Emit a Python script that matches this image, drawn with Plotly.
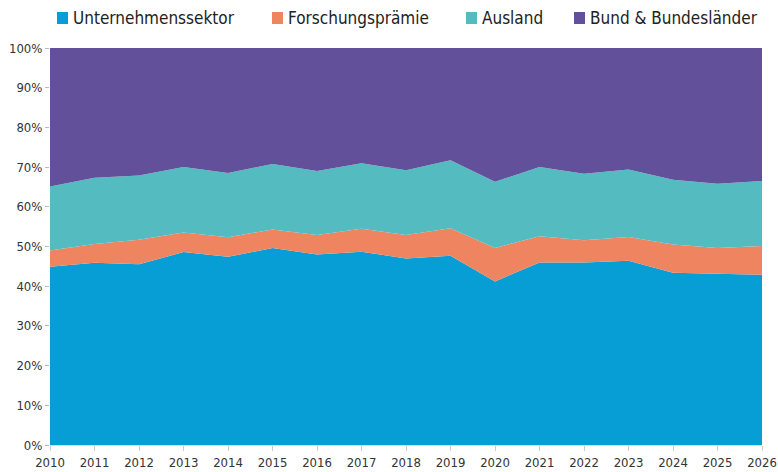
import plotly.graph_objects as go

years = [str(y) for y in range(2010, 2027)]
unternehmen = [44.9, 45.9, 45.5, 48.6, 47.4, 49.6, 48.0, 48.7, 47.0, 47.7, 41.2, 46.0, 46.0, 46.4, 43.4, 43.1, 42.9]
forschung = [4.1, 4.7, 6.2, 4.9, 4.9, 4.7, 4.9, 5.8, 5.9, 6.9, 8.4, 6.6, 5.6, 6.0, 7.1, 6.5, 7.2]
ausland = [16.1, 16.7, 16.2, 16.5, 16.2, 16.5, 16.1, 16.5, 16.3, 17.1, 16.7, 17.4, 16.7, 17.0, 16.3, 16.2, 16.4]
bund = [34.9, 32.7, 32.1, 30.0, 31.5, 29.2, 31.0, 29.0, 30.8, 28.3, 33.7, 30.0, 31.7, 30.6, 33.2, 34.2, 33.5]

names = ["Unternehmenssektor", "Forschungsprämie", "Ausland", "Bund & Bundesländer"]
colors = ["#069ed5", "#ee8460", "#54bbc1", "#62509a"]
series = [unternehmen, forschung, ausland, bund]

FONT = "DejaVu Sans Condensed"
W, H = 778, 472
ML, MR, MT, MB = 50, 16, 48, 27
PW, PH = W - ML - MR, H - MT - MB

fig = go.Figure()
for name, col, vals in zip(names, colors, series):
    fig.add_trace(go.Scatter(
        x=years, y=vals, name=name, stackgroup="one", groupnorm="percent",
        mode="lines", line=dict(width=0, color=col), fillcolor=col,
        showlegend=False, hoverinfo="x+y+name"))

# legend drawn as squares + text (pixel positions converted to paper coords)
legend_sq_x = [57, 272, 466, 574]
legend_cy = 18
for px, name, col in zip(legend_sq_x, names, colors):
    x0 = (px - ML) / PW
    x1 = (px + 11 - ML) / PW
    y0 = (H - MB - (legend_cy + 6)) / PH
    y1 = (H - MB - (legend_cy - 6)) / PH
    fig.add_shape(type="rect", xref="paper", yref="paper", x0=x0, x1=x1, y0=y0, y1=y1,
                  fillcolor=col, line=dict(width=0))
    fig.add_annotation(xref="paper", yref="paper", x=(px + 14 - ML) / PW,
                       y=(H - MB - legend_cy) / PH, xanchor="left", yanchor="middle",
                       text=name, showarrow=False,
                       font=dict(family=FONT, size=17, color="#222222"))

fig.update_layout(
    width=W, height=H,
    margin=dict(l=ML, r=MR, t=MT, b=MB),
    paper_bgcolor="white", plot_bgcolor="white",
    font=dict(family=FONT, color="#333333", size=13),
    showlegend=False,
    xaxis=dict(type="category", range=[0, 16], showgrid=False, zeroline=False,
               ticks="outside", ticklen=5, tickcolor="#cccccc", automargin=False,
               showline=True, linecolor="#dddddd", linewidth=1,
               tickfont=dict(size=13, color="#333333")),
    yaxis=dict(range=[0, 100], tickvals=list(range(0, 101, 10)),
               ticktext=[f"{v}%" for v in range(0, 101, 10)], automargin=False,
               showgrid=False, zeroline=False, ticks="outside", ticklen=4,
               tickcolor="#bbbbbb", tickfont=dict(size=13, color="#333333")),
)
fig.write_html("out.html", config={"displayModeBar": False},
               post_script="document.body.style.margin='0';document.body.style.overflow='hidden';")
